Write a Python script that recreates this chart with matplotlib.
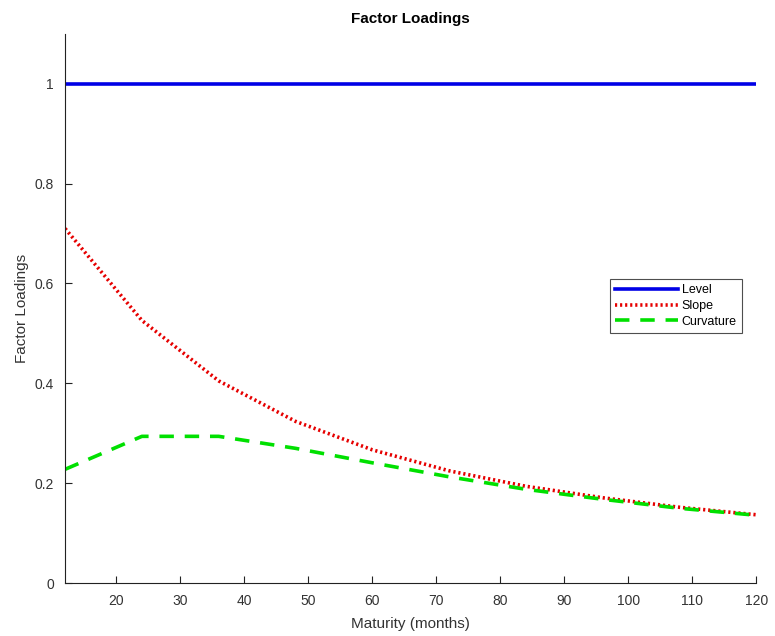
import numpy as np
import matplotlib.pyplot as plt

plt.rcParams['font.family'] = ['Liberation Sans', 'DejaVu Sans']

# maturities in months and the three loadings at each
maturity = [12, 24, 36, 48, 60, 72, 84, 96, 108, 120]
level = [1, 1, 1, 1, 1, 1, 1, 1, 1, 1]
slope = [0.710, 0.526, 0.405, 0.324, 0.267, 0.225, 0.194, 0.171, 0.152, 0.137]
curvature = [0.228, 0.294, 0.294, 0.270, 0.241, 0.213, 0.188, 0.168, 0.150, 0.136]

fig = plt.figure(figsize=(7.75, 6.36), dpi=100)
ax = fig.add_axes([0.084, 0.083, 0.892, 0.864])

ax.plot(maturity, level, color='#0000e6', lw=2.6, label='Level')
ax.plot(maturity, slope, color='#e60000', lw=2.6, ls=(0, (0.6, 0.8)), label='Slope')
ax.plot(maturity, curvature, color='#00e000', lw=2.6, ls=(0, (4, 3)), label='Curvature')

ax.set_xlim(12, 120)
ax.set_ylim(0, 1.1)
ax.set_xticks(np.arange(20, 121, 10))
ax.set_yticks([0, 0.2, 0.4, 0.6, 0.8, 1])
ax.set_yticklabels(['0', '0.2', '0.4', '0.6', '0.8', '1'])

for side in ['top', 'right']:
    ax.spines[side].set_visible(False)
for side in ['left', 'bottom']:
    ax.spines[side].set_color('#222222')
ax.tick_params(direction='in', length=5, labelsize=10, colors='#222222', labelcolor='#333333', pad=8)

ax.set_title('Factor Loadings', fontsize=11, fontweight='bold', pad=8)
ax.set_xlabel('Maturity (months)', fontsize=11, color='#333333', labelpad=6)
ax.set_ylabel('Factor Loadings', fontsize=11, color='#333333', labelpad=4)

leg = ax.legend(loc='upper right', bbox_to_anchor=(0.957, 0.561), bbox_transform=fig.transFigure,
                fontsize=9, frameon=True, fancybox=False, edgecolor='#222222',
                handlelength=5.0, handletextpad=0.3, labelspacing=0.3, borderpad=0.4,
                borderaxespad=0)
leg.get_frame().set_linewidth(0.8)

fig.savefig('out.png', dpi=100)
